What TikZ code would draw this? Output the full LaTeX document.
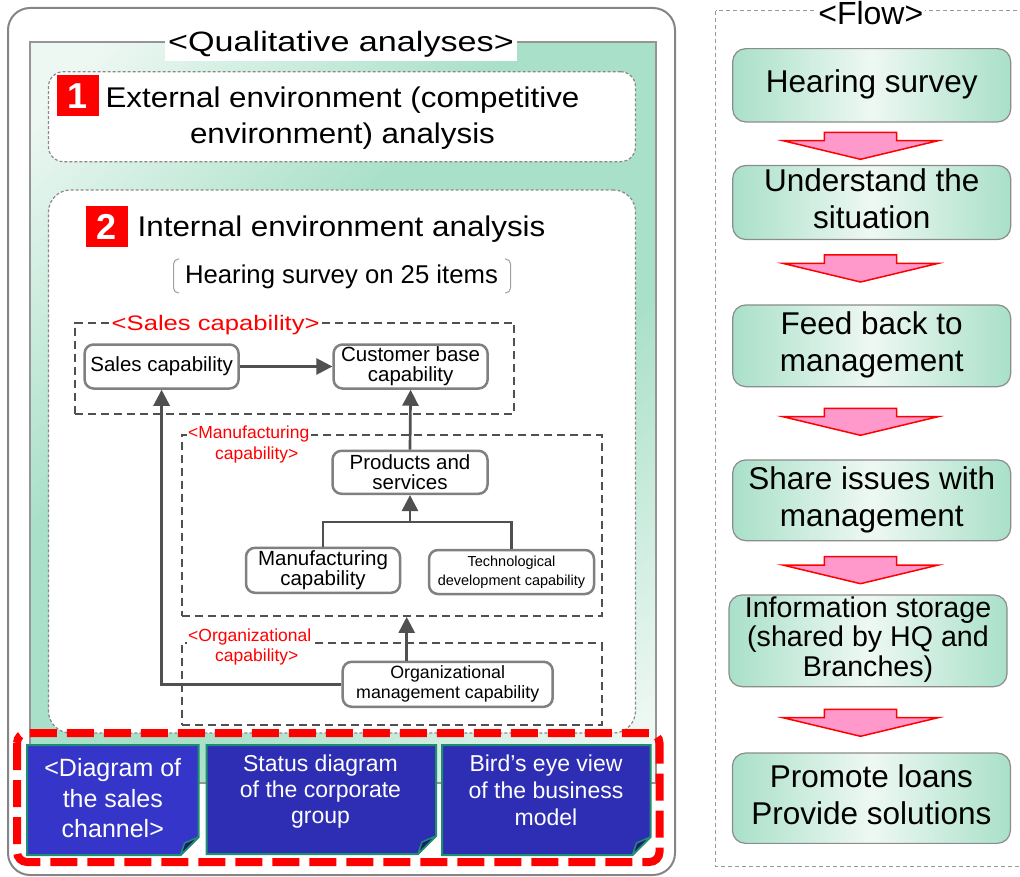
\documentclass[tikz,border=0pt]{standalone}
\usepackage{fontspec}
\setmainfont{Liberation Sans}
\newfontfamily\wideA[FakeStretch=1.1]{Liberation Sans}
\newfontfamily\wideB[FakeStretch=1.22]{Liberation Sans}
\usetikzlibrary{arrows.meta,calc}

\definecolor{panelgreen}{HTML}{A9E0C9}
\definecolor{panellight}{HTML}{EEF8F3}
\definecolor{outergray}{HTML}{858585}
\definecolor{softgray}{HTML}{8A8A8A}
\definecolor{panelborder}{HTML}{959595}
\definecolor{linkgray}{HTML}{505050}
\definecolor{nodegray}{HTML}{808080}
\definecolor{bracketgray}{HTML}{A0A0A0}
\definecolor{labelred}{HTML}{FF0000}
\definecolor{numred}{HTML}{FF0000}
\definecolor{cardblueA}{HTML}{3535C9}
\definecolor{cardblue}{HTML}{2E2EB4}
\definecolor{cardedge}{HTML}{1E8F6E}
\definecolor{foldnavy}{HTML}{1C1C72}
\definecolor{arrowpink}{HTML}{FF99CC}
\definecolor{arrowred}{HTML}{FF0000}
\definecolor{flowedge}{HTML}{8C8C8C}
\definecolor{flowdashgray}{HTML}{999999}

% diagonal light-green-light wash of the analysis panel
\pgfdeclarehorizontalshading{panelshade}{100bp}{%
  color(0bp)=(panellight); color(18bp)=(panellight);
  color(40bp)=(panelgreen); color(60bp)=(panelgreen);
  color(82bp)=(panellight); color(100bp)=(panellight)}

% step text, set a little below the box centre
\newcommand{\steptext}[1]{\raisebox{-3pt}{\begin{tabular}{@{}c@{}}#1\end{tabular}}}

\tikzset{
  softbox/.style={draw=softgray, line width=1.2pt, dash pattern=on 3pt off 2pt, fill=white, inner sep=0pt},
  numbox/.style={fill=numred, text=white, font=\bfseries\fontsize{36}{36}\selectfont,
    inner sep=0pt, minimum width=42pt, minimum height=41pt},
  capnode/.style={draw=nodegray, line width=2.5pt, rounded corners=9pt, fill=white, align=center,
    inner sep=0pt, font=\fontsize{20.5}{20}\selectfont},
  grpbox/.style={draw=linkgray, line width=1.8pt, dash pattern=on 8pt off 5pt, inner sep=0pt},
  redlabel/.style={text=labelred, fill=white, inner sep=1.5pt, align=left},
  link/.style={draw=linkgray, line width=2.7pt, -{Triangle[length=16pt,width=16pt]}},
  plainlink/.style={draw=linkgray, line width=2.7pt, line join=miter},
  card/.style={draw=cardedge, line width=2pt, line join=miter},
  fold/.style={fill=foldnavy, draw=cardedge, line width=1.5pt, line join=round},
  cardtext/.style={text=white, align=center, inner sep=0pt},
  flowbox/.style={draw=flowedge, line width=1.2pt, rounded corners=13pt, minimum width=278pt,
    inner sep=0pt, font=\fontsize{31.5}{37}\selectfont,
    left color=panelgreen, right color=panelgreen, middle color=panellight},
  flowdash/.style={draw=flowdashgray, line width=1pt, dash pattern=on 4pt off 3pt},
  blockarrow/.style={fill=arrowpink, draw=arrowred, line width=1.5pt, line join=miter},
  pics/downarrow/.style={code={%
    \path[blockarrow] (-36.2,0) -- (36.2,0) -- (36.2,8.4) -- (77.5,8.4) -- (0,27)
      -- (-77.5,8.4) -- (-36.2,8.4) -- cycle;}},
}

% card with a folded bottom-right corner: #1,#2 top-left, #3,#4 bottom-right, #5 fill
\newcommand{\papercard}[5]{%
  \path[card, fill=#5] (#1,#2) -- (#3,#2) -- (#3,#4-18) -- (#3-18,#4) -- (#1,#4) -- cycle;
  \path[fold] (#3,#4-18) -- (#3-18,#4) -- (#3-14,#4-12) -- cycle;}

\begin{document}
\begin{tikzpicture}[x=1pt, y=-1pt]
\useasboundingbox (0,0) rectangle (1020,877);

% ---------- left frame: qualitative analyses ----------
\draw[outergray, line width=2pt, rounded corners=22pt] (8,8) rectangle (675,875);
\shade[shading=panelshade, shading angle=-45] (30,42) rectangle (656,783);
\draw[panelborder, line width=1.2pt] (30,42) rectangle (656,783);
\node[fill=white, inner xsep=3pt, inner ysep=4pt, font=\wideB\fontsize{28}{30}\selectfont]
  (title) at (341,44.4) {<Qualitative analyses>};

% external environment block
\node[softbox, rounded corners=15pt, minimum width=587pt, minimum height=90pt] (extbox) at (342,116.7) {};
\node[numbox] (num1) at (78,96) {1};
\node[align=center, inner sep=0pt, font=\wideA\fontsize{28.5}{36}\selectfont]
  (exttext) at (342.5,117.9) {External environment (competitive\\environment) analysis};

% internal environment block
\node[softbox, rounded corners=22pt, minimum width=587pt, minimum height=543pt] (intbox) at (342,461.5) {};
\node[numbox] (num2) at (107,226.5) {2};
\node[anchor=base west, inner sep=0pt, font=\wideA\fontsize{28.5}{30}\selectfont]
  (inttext) at (137.5,236.7) {Internal environment analysis};
\node[anchor=base, inner sep=0pt, font=\fontsize{25.7}{28}\selectfont]
  (items) at (341.5,284) {Hearing survey on 25 items};
\draw[bracketgray, line width=1pt, rounded corners=5pt] (179,259) -- (173.5,259) -- (173.5,293) -- (179,293);
\draw[bracketgray, line width=1pt, rounded corners=5pt] (505,259) -- (510.5,259) -- (510.5,293) -- (505,293);

% capability groups
\node[grpbox, minimum width=439.3pt, minimum height=91.3pt] (salesgrp) at (294.4,368.3) {};
\node[grpbox, minimum width=419.7pt, minimum height=181pt] (manugrp) at (391.8,525.5) {};
\node[grpbox, minimum width=419.7pt, minimum height=82pt] (orggrp) at (391.8,684) {};
\node[redlabel, font=\wideB\fontsize{21}{23}\selectfont] (saleslbl) at (215.7,325.2) {<Sales capability>};
\node[redlabel, anchor=west, font=\fontsize{17.5}{20.3}\selectfont] (manulbl) at (186.5,444.6)
  {<Manufacturing\\\hspace*{27pt}capability>};
\node[redlabel, anchor=west, font=\fontsize{17.5}{20.3}\selectfont] (orglbl) at (186.5,646.8)
  {<Organizational\\\hspace*{27pt}capability>};

% capability items
\node[capnode, minimum width=154pt, minimum height=44pt] (sales) at (161.6,366.5) {Sales capability};
\node[capnode, minimum width=154pt, minimum height=44pt] (cust) at (410.6,366.5) {Customer base\\capability};
\node[capnode, minimum width=155pt, minimum height=43pt] (prod) at (410,472.3) {Products and\\services};
\node[capnode, minimum width=154pt, minimum height=45pt] (manu) at (323,570.3) {Manufacturing\\capability};
\node[capnode, minimum width=165pt, minimum height=44pt, font=\fontsize{14.5}{19.4}\selectfont]
  (tech) at (511.5,572) {Technological\\development capability};
\node[capnode, minimum width=210pt, minimum height=45pt, font=\fontsize{17.8}{20}\selectfont]
  (org) at (447.7,684.3) {Organizational\\management capability};

% links between capabilities
\draw[link] (sales.east) -- (cust.west);
\draw[link] (prod.north) -- (cust.south);
\coordinate (fork) at (prod.south |- 0,522);
\draw[plainlink] (manu.north) |- (fork) -| (tech.north);
\draw[link] (fork) -- (prod.south);
\draw[link] ([xshift=-41pt]org.north) -- ([xshift=-41pt]org.north |- manugrp.south);
\draw[link] (org.west) -| (sales.south);

% supporting materials
\draw[numred, line width=8pt, dash pattern=on 27pt off 10pt, rounded corners=10pt] (17,733) rectangle (659.5,862);
\papercard{27}{745}{198.6}{855}{cardblueA}
\papercard{206.7}{745}{436}{854}{cardblue}
\papercard{442}{745}{650.5}{855}{cardblue}
\node[cardtext, font=\fontsize{25}{30.5}\selectfont] (cardAtext) at (112.8,798.4) {<Diagram of\\the sales\\channel>};
\node[cardtext, font=\fontsize{23}{26}\selectfont] (cardBtext) at (320.5,792) {Status diagram\\of the corporate\\group};
\node[cardtext, font=\fontsize{23}{27}\selectfont] (cardCtext) at (546,790.6) {Bird’s eye view\\of the business\\model};

% ---------- right frame: flow ----------
\draw[flowdash] (715.7,10.7) rectangle (1040,866);
\node[fill=white, inner xsep=2pt, inner ysep=0pt, anchor=base, font=\fontsize{32}{34}\selectfont]
  (flowtitle) at (870.8,25) {<Flow>};

\node[flowbox, minimum height=73.3pt] (fb1) at (871.7,85.3) {\steptext{Hearing survey}};
\node[flowbox, minimum height=73.6pt] (fb2) at (871.7,202.5) {\steptext{Understand the\\situation}};
\node[flowbox, minimum height=81.7pt] (fb3) at (871.7,345.8) {\steptext{Feed back to\\management}};
\node[flowbox, minimum height=80.7pt] (fb4) at (871.7,500.3) {\steptext{Share issues with\\management}};
\node[flowbox, minimum height=91.7pt, font=\fontsize{28.6}{29.5}\selectfont] (fb5) at (868,640.8)
  {\begin{tabular}{@{}c@{}}Information storage\\(shared by HQ and\\Branches)\end{tabular}};
\node[flowbox, minimum height=90.3pt] (fb6) at (871.4,798.2) {\steptext{Promote loans\\Provide solutions}};

\pic at (860.5,132.3) {downarrow};
\pic at (860.5,255) {downarrow};
\pic at (860.5,408.3) {downarrow};
\pic at (860.5,556.7) {downarrow};
\pic at (860.5,709.3) {downarrow};
\end{tikzpicture}
\end{document}
